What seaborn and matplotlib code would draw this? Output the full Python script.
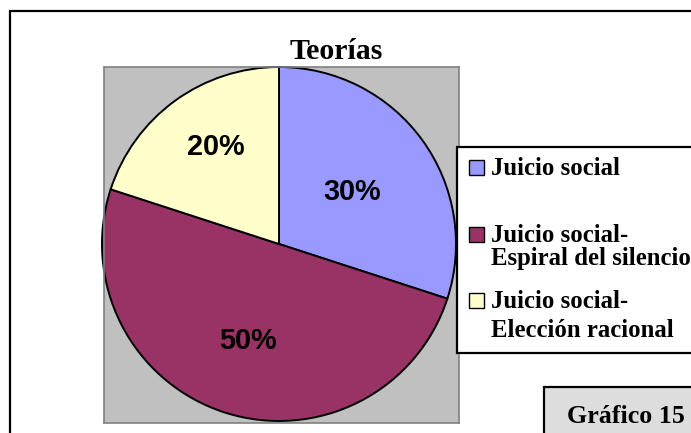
#import libraries
import numpy as np
import matplotlib
matplotlib.use("Agg")
import matplotlib.pyplot as plt
import matplotlib.patches as mpatches
import seaborn as sns

sns.set_style("white")
plt.rcParams['text.color'] = 'black'

# data
categories = ['Juicio social', 'Juicio social-\nEspiral del silencio', 'Juicio social-\nElección racional']
shares = [30, 50, 20]
colors = sns.color_palette(['#9999FF', '#993366', '#FFFFCC'])
title = 'Teorías'
caption = 'Gráfico 15'

W, H = 691, 433
fig = plt.figure(figsize=(W / 100, H / 100), dpi=100)

def fx(x):
    return x / W

def fy(y):
    return 1 - y / H

# outer frame (only top and left are inside the picture)
fig.patches.append(mpatches.Rectangle((fx(10), fy(440)), 1, fy(11) - fy(440), transform=fig.transFigure,
                                      fill=False, edgecolor='black', linewidth=1.6))

# plot area (gray box) in pixel-like data units
ax = fig.add_axes([fx(104), fy(423), fx(459) - fx(104), fy(67) - fy(423)])
ax.set_facecolor('#C0C0C0')
wedges, _ = ax.pie(shares, colors=colors, startangle=90, counterclock=False,
                   center=(279, H - 244), radius=177, frame=True,
                   wedgeprops=dict(edgecolor='black', linewidth=1.4))
ax.set_aspect('auto')
ax.set_xlim(104, 459)
ax.set_ylim(H - 423, H - 67)
ax.set_xticks([])
ax.set_yticks([])
for s in ax.spines.values():
    s.set_edgecolor('#808080')
    s.set_linewidth(1.2)

# percentage labels (Excel puts them at different radii)
label_r = [0.51, 0.57, 0.66]
label_shift = [0, 0, -3.5]
for w, v, lr, sh in zip(wedges, shares, label_r, label_shift):
    ang = np.deg2rad((w.theta1 + w.theta2) / 2 + sh)
    ax.text(w.center[0] + lr * w.r * np.cos(ang), w.center[1] + lr * w.r * np.sin(ang) - 1.5,
            f'{v}%', ha='center', va='center', fontsize=20.8, fontweight='bold',
            family='Liberation Sans', color='black')

# title
fig.text(fx(336), fy(59), title, ha='center', va='baseline', fontsize=21.5,
         fontweight='bold', family='Liberation Serif', color='black')

# legend box
fig.patches.append(mpatches.Rectangle((fx(457), fy(353)), 1, fy(147) - fy(353), transform=fig.transFigure,
                                      facecolor='white', edgecolor='black', linewidth=1.6))
handle_top = [160, 227, 293]
line_base = [[175], [242, 265], [308, 337]]
for col, lab, ht, bases in zip(colors, categories, handle_top, line_base):
    fig.patches.append(mpatches.Rectangle((fx(469), fy(ht + 15)), fx(15), fy(ht) - fy(ht + 15),
                                          transform=fig.transFigure, facecolor=col,
                                          edgecolor='black', linewidth=1.0))
    for line, b in zip(lab.split('\n'), bases):
        fig.text(fx(491), fy(b), line, ha='left', va='baseline', fontsize=17.8,
                 fontweight='bold', family='Liberation Serif', color='black')

# caption box
fig.patches.append(mpatches.Rectangle((fx(544), fy(440)), 1, fy(387) - fy(440), transform=fig.transFigure,
                                      facecolor='#DDDDDD', edgecolor='black', linewidth=1.6))
fig.text(fx(626), fy(423), caption, ha='center', va='baseline', fontsize=18.7,
         fontweight='bold', family='Liberation Serif', color='black')

fig.savefig('out.png', dpi=100)
